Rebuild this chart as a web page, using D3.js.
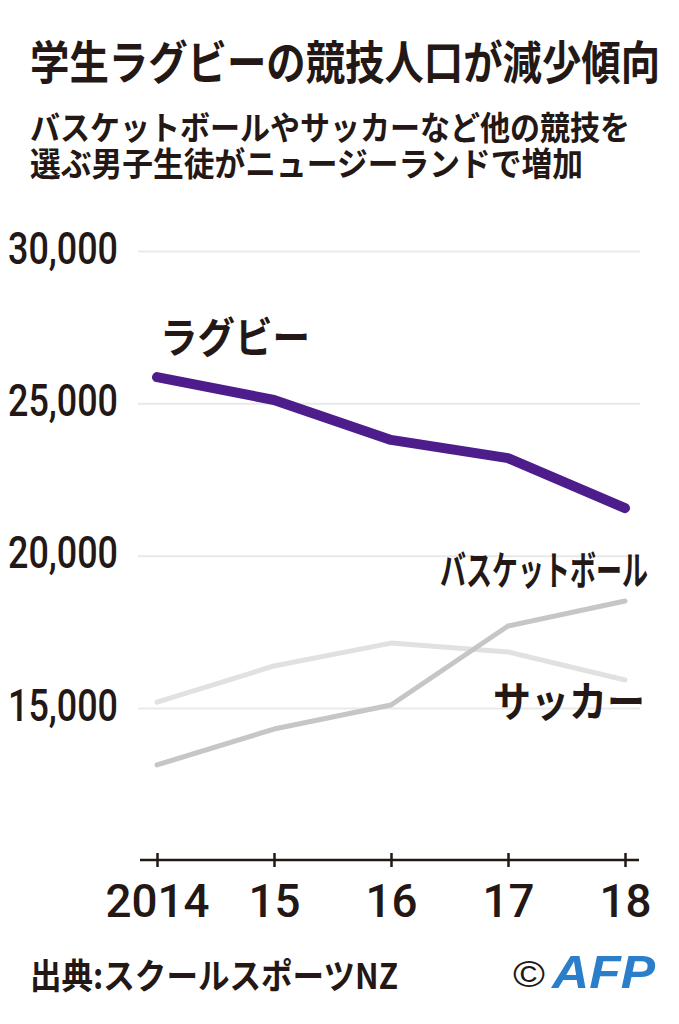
<!DOCTYPE html>
<html>
<head>
<meta charset="utf-8">
<script src="https://cdn.jsdelivr.net/npm/d3@7"></script>
<style>
  body { margin: 0; background: #fff; }
  text { fill: #231815; }
  .jp { font-family: "Noto Sans CJK JP", sans-serif; }
  .num { font-family: Roboto, "Liberation Sans", Arial, sans-serif; font-weight: 500; }
</style>
</head>
<body>
<script>
// data
var years = [2014, 2015, 2016, 2017, 2018];
var yearLabels = ["2014", "15", "16", "17", "18"];
var rugby = [25860, 25110, 23800, 23200, 21560];
var basketball = [13130, 14310, 15100, 17690, 18510];
var soccer = [15190, 16380, 17130, 16840, 15920];
var yTicks = [15000, 20000, 25000, 30000];

var W = 679, H = 1024;

var svg = d3.select("body").append("svg")
  .attr("width", W)
  .attr("height", H);

svg.append("rect").attr("width", W).attr("height", H).attr("fill", "#fff");

// scales
var x = d3.scaleLinear().domain([2014, 2018]).range([157, 625]);
var y = d3.scaleLinear().domain([15000, 30000]).range([708, 251]);

// title + subtitle
svg.append("text").attr("class", "jp")
  .attr("x", 30).attr("y", 79)
  .attr("font-size", 46).attr("font-weight", 700)
  .attr("textLength", 630).attr("lengthAdjust", "spacingAndGlyphs")
  .text("学生ラグビーの競技人口が減少傾向");

svg.append("text").attr("class", "jp")
  .attr("x", 30).attr("y", 140)
  .attr("font-size", 33).attr("font-weight", 700)
  .attr("textLength", 600).attr("lengthAdjust", "spacingAndGlyphs")
  .text("バスケットボールやサッカーなど他の競技を");

svg.append("text").attr("class", "jp")
  .attr("x", 30).attr("y", 176)
  .attr("font-size", 33).attr("font-weight", 700)
  .attr("textLength", 553).attr("lengthAdjust", "spacingAndGlyphs")
  .text("選ぶ男子生徒がニュージーランドで増加");

// y grid + labels
var gy = svg.append("g")
  .attr("transform", "translate(640,0)")
  .call(d3.axisLeft(y).tickValues(yTicks).tickSize(502).tickFormat(d3.format(",")));
gy.select(".domain").remove();
gy.selectAll(".tick line").attr("stroke", "#e9e9e9").attr("stroke-width", 2);
gy.selectAll(".tick text")
  .attr("class", "num")
  .attr("x", -632).attr("dy", 12)
  .attr("text-anchor", "start")
  .attr("font-size", 44)
  .attr("textLength", 110).attr("lengthAdjust", "spacingAndGlyphs")
  .style("fill", "#231815");

// lines
var line = d3.line()
  .x(function(d, i) { return x(years[i]); })
  .y(function(d) { return y(d); });

svg.append("path").datum(soccer)
  .attr("d", line).attr("fill", "none")
  .attr("stroke", "#e1e1e1").attr("stroke-width", 5)
  .attr("stroke-linecap", "round").attr("stroke-linejoin", "round");

svg.append("path").datum(basketball)
  .attr("d", line).attr("fill", "none")
  .attr("stroke", "#c6c6c6").attr("stroke-width", 5)
  .attr("stroke-linecap", "round").attr("stroke-linejoin", "round");

svg.append("path").datum(rugby)
  .attr("d", line).attr("fill", "none")
  .attr("stroke", "#4e1d8c").attr("stroke-width", 10)
  .attr("stroke-linecap", "round").attr("stroke-linejoin", "round");

// series labels
svg.append("text").attr("class", "jp")
  .attr("x", 160).attr("y", 353)
  .attr("font-size", 42).attr("font-weight", 700)
  .attr("textLength", 150).attr("lengthAdjust", "spacingAndGlyphs")
  .text("ラグビー");

svg.append("text").attr("class", "jp")
  .attr("x", 440).attr("y", 585)
  .attr("font-size", 40).attr("font-weight", 700)
  .attr("textLength", 208).attr("lengthAdjust", "spacingAndGlyphs")
  .text("バスケットボール");

svg.append("text").attr("class", "jp")
  .attr("x", 493).attr("y", 717)
  .attr("font-size", 42).attr("font-weight", 700)
  .attr("textLength", 152).attr("lengthAdjust", "spacingAndGlyphs")
  .text("サッカー");

// x axis
var axisY = 860;
svg.append("line")
  .attr("x1", x.range()[0] - 17).attr("x2", x.range()[1] + 14)
  .attr("y1", axisY).attr("y2", axisY)
  .attr("stroke", "#231815").attr("stroke-width", 2.5);

var gx = svg.append("g")
  .attr("transform", "translate(0," + axisY + ")")
  .call(d3.axisBottom(x).tickValues(years).tickSize(7)
    .tickFormat(function(d, i) { return yearLabels[i]; }));
gx.select(".domain").remove();
gx.selectAll(".tick line")
  .attr("y1", -7).attr("y2", 7)
  .attr("stroke", "#231815").attr("stroke-width", 2.5);
gx.selectAll(".tick text")
  .attr("class", "num")
  .attr("y", 57).attr("dy", 0)
  .attr("font-size", 47)
  .attr("textLength", function(d, i) { return yearLabels[i].length * 26; })
  .attr("lengthAdjust", "spacingAndGlyphs")
  .style("fill", "#231815");

// footer
svg.append("text").attr("class", "jp")
  .attr("x", 30).attr("y", 989)
  .attr("font-size", 35).attr("font-weight", 700)
  .attr("textLength", 368).attr("lengthAdjust", "spacingAndGlyphs")
  .text("出典:スクールスポーツNZ");

svg.append("text")
  .attr("x", 513).attr("y", 987)
  .attr("font-family", "Liberation Sans, Arial, sans-serif")
  .attr("font-size", 36)
  .attr("textLength", 32).attr("lengthAdjust", "spacingAndGlyphs")
  .text("©");

svg.append("text")
  .attr("x", 552).attr("y", 988)
  .attr("font-family", "Liberation Sans, Arial, sans-serif")
  .attr("font-size", 46).attr("font-weight", 700).attr("font-style", "italic")
  .attr("textLength", 103).attr("lengthAdjust", "spacingAndGlyphs")
  .style("fill", "#2b7fca")
  .text("AFP");
</script>
</body>
</html>
